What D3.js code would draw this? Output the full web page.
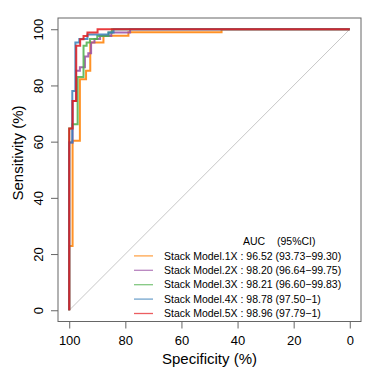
<!DOCTYPE html>
<html>
<head>
<meta charset="utf-8">
<script src="https://cdn.jsdelivr.net/npm/d3@7"></script>
<style>
  body { margin: 0; background: #fff; }
  svg { display: block; font-family: "Liberation Sans", Arial, sans-serif; }
  .tick text { fill: #000; }
</style>
</head>
<body>
<svg id="chart" width="383" height="371"></svg>
<script>
// ROC threshold points (specificity %, sensitivity %), drawn as step-after
const models = ['Stack Model.1X', 'Stack Model.2X', 'Stack Model.3X', 'Stack Model.4X', 'Stack Model.5X'];
const colors = ['#FF7F00', '#984EA3', '#4DAF4A', '#377EB8', '#E41A1C'];
const aucText = ['96.52 (93.73\u221299.30)', '98.20 (96.64\u221299.75)', '98.21 (96.60\u221299.83)', '98.78 (97.50\u22121)', '98.96 (97.79\u22121)'];

const spec1 = [100, 100, 98.8, 96.2, 94, 92.5, 87.8, 78.9, 45.7, 0];
const sens1 = [0, 22.9, 60.3, 82.2, 85.2, 95.3, 97.7, 98.9, 100, 100];
const spec2 = [100, 100, 98.8, 97.6, 96.2, 94.4, 93.2, 92.2, 91, 89, 85, 78.3, 0];
const sens2 = [0, 59.7, 74.5, 85.2, 86.5, 90.3, 91.5, 95.3, 96.5, 97.6, 98.8, 100, 100];
const spec3 = [100, 100, 98.9, 97.0, 94.9, 93.8, 92.6, 90, 86, 84.8, 0];
const sens3 = [0, 64.7, 66.2, 83, 94.1, 95.3, 96.5, 97.6, 98.8, 100, 100];
const spec4 = [100, 100, 98.9, 97.8, 96.4, 93.5, 86, 84.2, 0];
const sens4 = [0, 59.7, 78, 95.3, 96.5, 98.1, 98.8, 100, 100];
const spec5 = [100, 100, 98.8, 97.5, 96.1, 94.9, 93.5, 89.9, 0];
const sens5 = [0, 64.7, 74.5, 94.1, 96.4, 97.6, 98.8, 100, 100];

const specs = [spec1, spec2, spec3, spec4, spec5];
const senss = [sens1, sens2, sens3, sens4, sens5];
const tickValues = [0, 20, 40, 60, 80, 100];

const svg = d3.select('#chart');
const plotL = 58, plotR = 361, plotT = 18, plotB = 321.5;

const x = d3.scaleLinear().domain([104, -4]).range([plotL, plotR]);
const y = d3.scaleLinear().domain([-4, 104]).range([plotB, plotT]);

// Diagonal reference
svg.append('line')
  .attr('x1', x(100)).attr('y1', y(0))
  .attr('x2', x(0)).attr('y2', y(100))
  .attr('stroke', '#c8c8c8')
  .attr('stroke-width', 1);

// ROC curves
const line = d3.line()
  .x((d) => x(d[0]))
  .y((d) => y(d[1]))
  .curve(d3.curveStepAfter);

models.forEach((m, i) => {
  const pts = specs[i].map((s, j) => [s, senss[i][j]]);
  svg.append('path')
    .datum(pts)
    .attr('fill', 'none')
    .attr('stroke', colors[i])
    .attr('stroke-opacity', 0.85)
    .attr('stroke-width', 2)
    .attr('d', line);
});

// Box
svg.append('rect')
  .attr('x', plotL).attr('y', plotT)
  .attr('width', plotR - plotL).attr('height', plotB - plotT)
  .attr('fill', 'none')
  .attr('stroke', '#666')
  .attr('stroke-width', 1);

// Axes
const xAxis = svg.append('g')
  .attr('transform', `translate(0,${plotB})`)
  .call(d3.axisBottom(x).tickValues(tickValues).tickSize(7).tickPadding(4));
xAxis.select('.domain').remove();
xAxis.selectAll('.tick line').attr('stroke', '#666');
xAxis.selectAll('.tick text').attr('font-size', 13).attr('dy', '0.95em');

const yAxis = svg.append('g')
  .attr('transform', `translate(${plotL},0)`)
  .call(d3.axisLeft(y).tickValues(tickValues).tickSize(7));
yAxis.select('.domain').remove();
yAxis.selectAll('.tick line').attr('stroke', '#666');
yAxis.selectAll('.tick text')
  .attr('font-size', 13)
  .attr('x', null).attr('dy', null)
  .attr('text-anchor', 'middle')
  .attr('transform', 'translate(-15,0) rotate(-90)');

// Axis titles
svg.append('text')
  .attr('x', (plotL + plotR) / 2).attr('y', 364)
  .attr('text-anchor', 'middle')
  .attr('font-size', 15)
  .text('Specificity (%)');

svg.append('text')
  .attr('transform', 'translate(23,153) rotate(-90)')
  .attr('text-anchor', 'middle')
  .attr('font-size', 15)
  .text('Sensitivity (%)');

// Legend
const legY0 = 241.5, legStep = 14.4;
svg.append('text')
  .attr('x', 243).attr('y', legY0).attr('dy', '0.35em')
  .attr('font-size', 10.5)
  .text('AUC');
svg.append('text')
  .attr('x', 277).attr('y', legY0).attr('dy', '0.35em')
  .attr('font-size', 10.5)
  .text('(95%CI)');

models.forEach((m, i) => {
  const ly = legY0 + legStep * (i + 1);
  svg.append('line')
    .attr('x1', 134).attr('x2', 153)
    .attr('y1', ly).attr('y2', ly)
    .attr('stroke', colors[i])
    .attr('stroke-opacity', 0.7)
    .attr('stroke-width', 1.3);
  svg.append('text')
    .attr('x', 164).attr('y', ly).attr('dy', '0.35em')
    .attr('font-size', 10.5)
    .text(`${m} : ${aucText[i]}`);
});
</script>
</body>
</html>
